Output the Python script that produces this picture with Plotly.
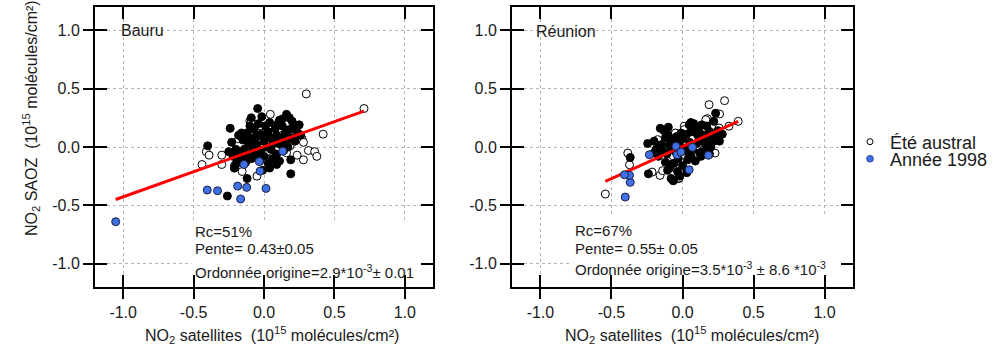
import plotly.graph_objects as go

# ---------------- data ----------------
# Bauru (left panel)
bauru_black_x = [-0.045, -0.016, 0.16, 0.13, 0.25, 0.20, 0.10, -0.24, -0.40, -0.26, 0.19, 0.19, 0.11, -0.12, -0.21,
                 -0.20, -0.23, -0.18, -0.15, -0.12, -0.10, -0.07, -0.05, -0.02, 0.00, 0.03, 0.05, 0.07, 0.09, 0.12,
                 0.15, 0.18, 0.20, 0.22, 0.17, 0.14, 0.09, 0.05, 0.02, -0.02, -0.05, -0.08, -0.11, -0.14, -0.17,
                 -0.20, -0.22, -0.19, -0.15, -0.12, -0.09, -0.06, -0.03, 0.00, 0.03, 0.06, 0.04, -0.01, 0.08, 0.11,
                 0.13, -0.04, 0.01, -0.10, -0.16, -0.13, 0.24, 0.26, 0.21, 0.16, -0.07, -0.04, 0.06, 0.01, 0.09,
                 0.04, -0.25, -0.09, 0.18, 0.12]
bauru_black_y = [0.33, 0.26, 0.28, 0.24, 0.19, 0.22, 0.20, 0.16, 0.01, -0.42, -0.23, -0.11, -0.12, -0.27, -0.18,
                 -0.15, 0.04, 0.10, 0.06, 0.12, 0.18, 0.15, 0.09, 0.11, 0.05, 0.13, 0.08, 0.03, 0.10, 0.07,
                 0.12, 0.15, 0.08, 0.05, 0.00, -0.03, -0.06, -0.02, 0.00, -0.03, 0.02, -0.01, 0.03, -0.02, -0.05,
                 -0.02, -0.08, -0.11, -0.09, -0.06, -0.10, -0.07, -0.12, -0.08, -0.14, -0.10, -0.18, -0.20, 0.16, 0.23,
                 0.18, 0.20, 0.18, 0.08, 0.12, -0.13, 0.12, 0.10, 0.16, 0.05, 0.05, -0.04, 0.06, 0.07, -0.15,
                 0.21, -0.04, 0.25, 0.25, 0.02]
bauru_open_x = [0.30, 0.71, 0.42, 0.045, -0.10, -0.44, -0.41, -0.39, -0.30, -0.30, 0.315, 0.36, 0.375, 0.28, 0.235,
                0.27, 0.28, -0.05, -0.155, -0.21, -0.02, 0.11, 0.185, 0.04, 0.16, -0.10, -0.18, 0.055, -0.21, -0.09,
                0.02, 0.13, -0.06]
bauru_open_y = [0.455, 0.33, 0.11, 0.28, 0.225, -0.15, -0.04, -0.07, -0.07, -0.15, -0.03, -0.04, -0.08, -0.11, -0.07,
                0.07, 0.04, -0.25, -0.21, -0.16, 0.18, 0.16, 0.01, -0.105, -0.05, 0.07, 0.07, -0.09, -0.18, 0.22,
                0.02, 0.10, -0.05]
bauru_blue_x = [-1.053, -0.403, -0.33, -0.187, -0.123, -0.166, 0.014, -0.142, -0.033, -0.028, 0.133]
bauru_blue_y = [-0.64, -0.369, -0.375, -0.335, -0.346, -0.446, -0.355, -0.15, -0.125, -0.207, -0.037]
bauru_slope = 0.43
bauru_intercept = 2.9e-3

# Réunion (right panel)
reunion_black_x = [0.233, 0.136, 0.059, 0.047, -0.156, -0.245, -0.368, -0.24, -0.065, -0.105, -0.035, 0.035, 0.14,
                   0.245, 0.164, -0.093, -0.023, -0.186, 0.117, 0.187, -0.081, 0.105, 0.222, 0.164,
                   -0.20, -0.15, -0.12, -0.10, -0.07, -0.04, 0.00, 0.03, 0.06, 0.09, 0.12, 0.15, 0.18, 0.21, 0.25,
                   0.28, 0.20, 0.10, 0.07, 0.04, 0.01, -0.02, -0.05, -0.08, -0.11, -0.14, -0.17, -0.12, -0.09, -0.06,
                   -0.03, 0.00, 0.03, -0.02, -0.08, 0.06, 0.09, 0.12, 0.15, -0.13, -0.10, 0.08, 0.17, 0.22, -0.20,
                   0.05, -0.01, 0.13, 0.26, 0.19]
reunion_black_y = [0.29, 0.19, 0.21, 0.19, 0.16, 0.03, -0.09, -0.23, -0.29, -0.20, -0.21, -0.11, -0.04,
                   0.08, 0.02, 0.02, 0.04, -0.02, 0.135, 0.135, -0.15, 0.106, 0.05, -0.04,
                   0.05, 0.02, 0.08, 0.10, 0.06, 0.09, 0.07, 0.11, 0.13, 0.16, 0.09, 0.10, 0.07, 0.12, 0.14,
                   0.11, 0.00, 0.03, -0.02, -0.05, -0.01, 0.01, -0.04, -0.02, -0.06, -0.03, -0.08, -0.13, -0.18, -0.14,
                   -0.10, -0.16, -0.22, -0.25, -0.27, -0.08, -0.12, -0.05, 0.05, 0.14, 0.17, 0.20, 0.18, 0.22, -0.05,
                   0.04, 0.12, -0.08, 0.05, -0.06]
reunion_open_x = [-0.543, -0.385, -0.373, 0.296, 0.187, 0.261, 0.392, 0.327, 0.229, 0.175, -0.028, -0.158, -0.214,
                  -0.14, -0.105, 0.012, -0.144, -0.175, 0.117, -0.07, 0.257, 0.164, 0.012, -0.023, 0.08, -0.05,
                  0.15, 0.10, -0.12, 0.20]
reunion_open_y = [-0.403, -0.052, -0.152, 0.397, 0.363, 0.283, 0.22, 0.178, -0.052, 0.243, -0.272, -0.243, -0.215,
                  -0.203, -0.123, 0.178, -0.003, 0.063, 0.077, 0.10, 0.163, 0.234, 0.149, -0.266, 0.15, 0.12,
                  -0.02, -0.06, -0.02, 0.10]
reunion_blue_x = [-0.403, -0.368, -0.373, -0.408, -0.233, -0.046, -0.039, -0.011, 0.07, 0.047, 0.182]
reunion_blue_y = [-0.429, -0.303, -0.243, -0.238, -0.066, 0.006, -0.066, -0.043, -0.003, -0.195, -0.071]
reunion_slope = 0.55
reunion_intercept = 3.5e-3

tick_vals = [-1.0, -0.5, 0.0, 0.5, 1.0]
tick_text = ["-1.0", "-0.5", "0.0", "0.5", "1.0"]
axis_range = [-1.2, 1.2]

legend_names = ["Été austral", "Année 1998"]
panel_names = ["Bauru", "Réunion"]
stats_bauru = ["Rc=51%", "Pente= 0.43±0.05", "Ordonnée origine=2.9*10<sup>-3</sup>± 0.01"]
stats_reunion = ["Rc=67%", "Pente= 0.55± 0.05", "Ordonnée origine=3.5*10<sup>-3</sup> ± 8.6 *10<sup>-3</sup>"]
x_title = "NO<sub>2</sub> satellites  (10<sup>15</sup> molécules/cm²)"
y_title = "NO<sub>2</sub> SAOZ  (10<sup>15</sup> molécules/cm²)"

# ---------------- styling ----------------
W, H = 1008, 349
FONT = "Liberation Sans, Arial, sans-serif"
BLUE = "#3f70e6"


def px(xp):
    return xp / W


def py(yp):
    return 1 - yp / H


fig = go.Figure()

panels = [
    dict(xa="x", ya="y", ox="x3", oy="y3",
         black=(bauru_black_x, bauru_black_y), open=(bauru_open_x, bauru_open_y),
         blue=(bauru_blue_x, bauru_blue_y), slope=bauru_slope, icpt=bauru_intercept),
    dict(xa="x2", ya="y2", ox="x4", oy="y4",
         black=(reunion_black_x, reunion_black_y), open=(reunion_open_x, reunion_open_y),
         blue=(reunion_blue_x, reunion_blue_y), slope=reunion_slope, icpt=reunion_intercept),
]

for p in panels:
    fig.add_trace(go.Scatter(x=p["open"][0], y=p["open"][1], mode="markers", xaxis=p["xa"], yaxis=p["ya"],
                             marker=dict(size=8, color="white", line=dict(color="black", width=1)),
                             showlegend=False, hoverinfo="skip"))
    fig.add_trace(go.Scatter(x=p["black"][0], y=p["black"][1], mode="markers", xaxis=p["xa"], yaxis=p["ya"],
                             marker=dict(size=8, color="black", line=dict(color="black", width=1)),
                             showlegend=False, hoverinfo="skip"))
    allx = p["open"][0] + p["black"][0] + p["blue"][0]
    x0, x1 = min(allx), max(allx)
    fig.add_trace(go.Scatter(x=[x0, x1], y=[p["slope"] * x0 + p["icpt"], p["slope"] * x1 + p["icpt"]],
                             mode="lines", xaxis=p["xa"], yaxis=p["ya"],
                             line=dict(color="#ff0000", width=3), showlegend=False, hoverinfo="skip"))
    fig.add_trace(go.Scatter(x=p["blue"][0], y=p["blue"][1], mode="markers", xaxis=p["xa"], yaxis=p["ya"],
                             marker=dict(size=8, color=BLUE, line=dict(color="#1a2040", width=1)),
                             showlegend=False, hoverinfo="skip"))
    # invisible trace on overlay axes (for the inner ticks)
    fig.add_trace(go.Scatter(x=[None], y=[None], mode="markers", xaxis=p["ox"], yaxis=p["oy"],
                             showlegend=False, hoverinfo="skip"))

# legend-only traces
fig.add_trace(go.Scatter(x=[None], y=[None], mode="markers", name=legend_names[0], legend="legend",
                         marker=dict(size=6, color="white", line=dict(color="black", width=1))))
fig.add_trace(go.Scatter(x=[None], y=[None], mode="markers", name=legend_names[1], legend="legend2",
                         marker=dict(size=7, color=BLUE, line=dict(color="#1a2040", width=0.5))))

dom_y = [py(287), py(7)]
dom_left = [px(95), px(433)]
dom_right = [px(512), px(853)]

base_axis = dict(range=axis_range, tickvals=tick_vals, ticktext=tick_text, showgrid=True,
                 gridcolor="#b5b5b5", griddash="dot", gridwidth=1, zeroline=False,
                 showline=True, linecolor="black", linewidth=2, mirror=True,
                 ticks="outside", ticklen=10, tickwidth=2, tickcolor="black",
                 tickfont=dict(family=FONT, size=16, color="#1a1a1a"))
overlay_axis = dict(range=axis_range, tickvals=tick_vals, showgrid=False, zeroline=False,
                    showline=False, showticklabels=False, ticks="inside", ticklen=12, tickwidth=2,
                    tickcolor="black", mirror="ticks")

fig.update_layout(
    width=W, height=H, margin=dict(l=0, r=0, t=0, b=0),
    paper_bgcolor="white", plot_bgcolor="white",
    font=dict(family=FONT, size=16, color="#1a1a1a"),
    xaxis=dict(domain=dom_left, anchor="y", **base_axis),
    yaxis=dict(domain=dom_y, anchor="x", **base_axis),
    xaxis2=dict(domain=dom_right, anchor="y2", **base_axis),
    yaxis2=dict(domain=dom_y, anchor="x2", **base_axis),
    xaxis3=dict(overlaying="x", anchor="y3", **overlay_axis),
    yaxis3=dict(overlaying="y", anchor="x3", **overlay_axis),
    xaxis4=dict(overlaying="x2", anchor="y4", **overlay_axis),
    yaxis4=dict(overlaying="y2", anchor="x4", **overlay_axis),
    legend=dict(x=px(850), y=py(142), xanchor="left", yanchor="middle", bgcolor="rgba(0,0,0,0)",
                font=dict(family=FONT, size=18, color="#1a1a1a"), tracegroupgap=0),
    legend2=dict(x=px(850), y=py(159), xanchor="left", yanchor="middle", bgcolor="rgba(0,0,0,0)",
                 font=dict(family=FONT, size=18, color="#1a1a1a"), tracegroupgap=0),
)

# white boxes hiding gridlines behind the statistics text
fig.add_shape(type="rect", xref="x", yref="y", x0=-0.515, x1=1.2, y0=-1.2, y1=-0.63,
              fillcolor="white", line=dict(width=0), layer="between")
fig.add_shape(type="rect", xref="x2", yref="y2", x0=-0.79, x1=1.2, y0=-1.2, y1=-0.6,
              fillcolor="white", line=dict(width=0), layer="between")

ann = []
ann.append(dict(text=panel_names[0], x=px(119), y=py(30), font=dict(size=16)))
ann.append(dict(text=panel_names[1], x=px(534), y=py(31), font=dict(size=16)))
for t, yy in zip(stats_bauru, [231.7, 248.3, 271.7]):
    ann.append(dict(text=t, x=px(193), y=py(yy), font=dict(size=15)))
for t, yy in zip(stats_reunion, [230, 248.3, 268.3]):
    ann.append(dict(text=t, x=px(573), y=py(yy), font=dict(size=15)))
for a in ann:
    a.update(xref="paper", yref="paper", xanchor="left", yanchor="middle", showarrow=False)

ann.append(dict(text=x_title, x=px(272), y=py(335), xref="paper", yref="paper", xanchor="center",
                yanchor="middle", showarrow=False, font=dict(size=16)))
ann.append(dict(text=x_title, x=px(692), y=py(335), xref="paper", yref="paper", xanchor="center",
                yanchor="middle", showarrow=False, font=dict(size=16)))
ann.append(dict(text=y_title, x=px(31), y=py(118), xref="paper", yref="paper", xanchor="center",
                yanchor="middle", showarrow=False, textangle=-90, font=dict(size=16)))
fig.update_layout(annotations=ann)

fig.write_html("out.html", config={"displayModeBar": False})

# remove the default page margin so the figure sits at the window's corner
with open("out.html", "r", encoding="utf-8") as f:
    html = f.read()
html = html.replace("<head>", "<head><style>html,body{margin:0;padding:0;overflow:hidden;}</style>", 1)
with open("out.html", "w", encoding="utf-8") as f:
    f.write(html)
